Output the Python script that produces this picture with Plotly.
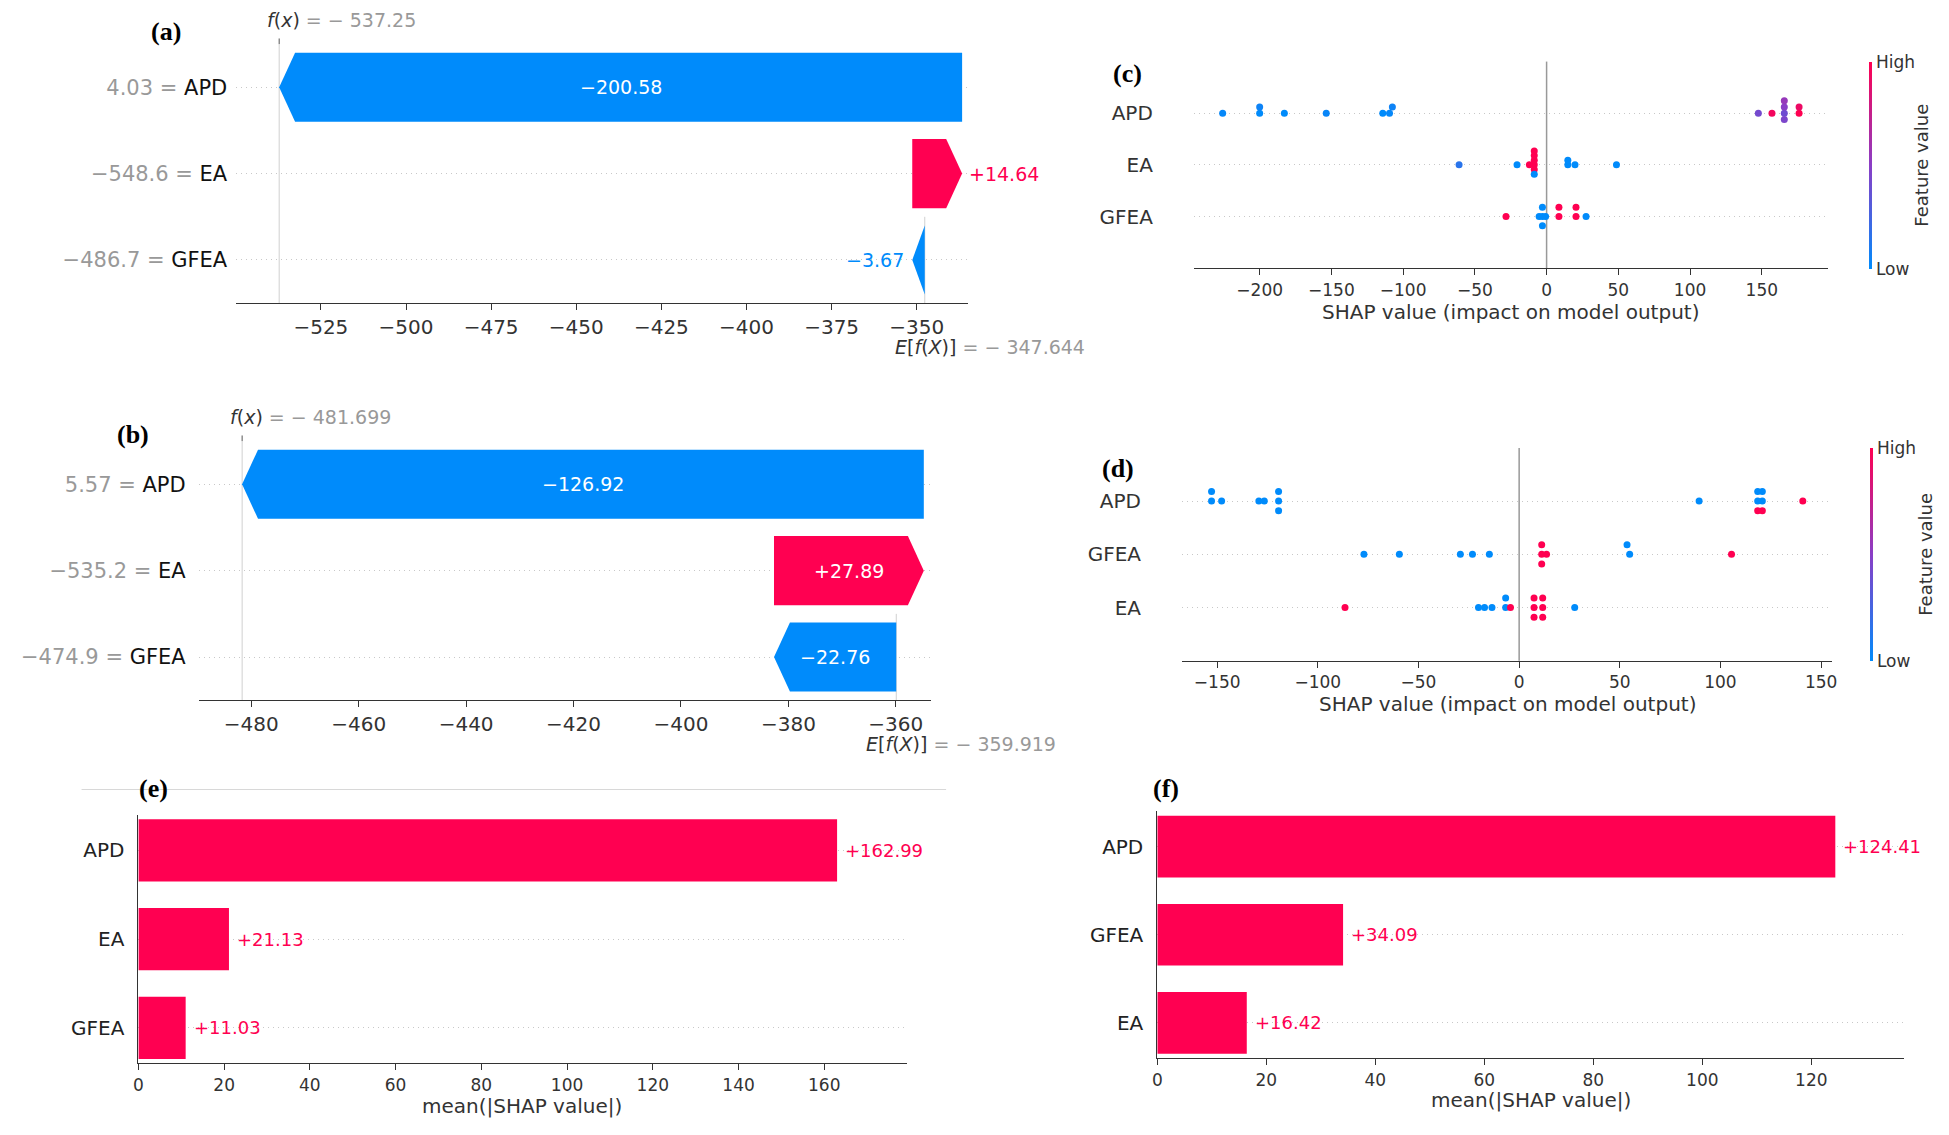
import numpy as np
import plotly.graph_objects as go

# ======================= DATA =======================
# (a) waterfall
wf_a_features = ["APD", "EA", "GFEA"]
wf_a_feature_values = ["4.03", "−548.6", "−486.7"]
wf_a_shap = [-200.58, 14.64, -3.67]
wf_a_base = -347.644
wf_a_fx = -537.25
wf_a_ticks = [-525, -500, -475, -450, -425, -400, -375, -350]

# (b) waterfall
wf_b_features = ["APD", "EA", "GFEA"]
wf_b_feature_values = ["5.57", "−535.2", "−474.9"]
wf_b_shap = [-126.92, 27.89, -22.76]
wf_b_base = -359.919
wf_b_fx = -481.699
wf_b_ticks = [-480, -460, -440, -420, -400, -380, -360]

# (c) beeswarm  (shap values, and normalised feature value 0=low .. 1=high)
bs_c_features = ["APD", "EA", "GFEA"]
bs_c_apd = [-225.8, -200.0, -200.0, -182.8, -153.6, -114.2, -109.5, -107.5,
            147.6, 157.1, 165.7, 165.7, 165.7, 165.7, 176.0, 176.0]
bs_c_apd_fv = [0.02, 0.0, 0.05, 0.0, 0.03, 0.0, 0.02, 0.05,
               0.42, 0.95, 0.40, 0.50, 0.45, 0.55, 1.0, 0.92]
bs_c_ea = [-61.0, -20.6, -12.0, -8.6, -8.6, -8.6, -8.6, -8.6, -8.6, 14.8, 14.8, 19.8, 48.7]
bs_c_ea_fv = [0.15, 0.0, 1.0, 1.0, 1.0, 1.0, 1.0, 0.0, 1.0, 0.0, 0.0, 0.0, 0.0]
bs_c_gfea = [-28.3, -5.2, -2.9, -2.9, -2.9, -0.7, 8.6, 8.6, 20.5, 20.5, 27.5]
bs_c_gfea_fv = [1.0, 0.0, 0.0, 0.0, 0.0, 0.0, 1.0, 1.0, 1.0, 1.0, 0.0]
bs_c_ticks = [-200, -150, -100, -50, 0, 50, 100, 150]

# (d) beeswarm
bs_d_features = ["APD", "GFEA", "EA"]
bs_d_apd = [-152.8, -152.8, -147.8, -129.3, -126.6, -119.5, -119.5, -119.5,
            89.4, 118.5, 118.5, 118.5, 120.8, 120.8, 120.8, 140.9]
bs_d_apd_fv = [0, 0, 0, 0, 0, 0, 0, 0, 0.0, 0.0, 0.0, 1.0, 0.0, 0.0, 1.0, 1.0]
bs_d_gfea = [-77.1, -59.5, -29.2, -23.2, -14.8, 11.2, 11.2, 11.2, 13.6, 54.9, 53.6, 105.5]
bs_d_gfea_fv = [0, 0, 0, 0, 0, 1, 1, 1, 1, 0, 0, 1]
bs_d_ea = [-86.5, -20.2, -17.2, -13.5, -6.7, -6.7, -4.3, 7.4, 7.4, 7.4, 11.7, 11.7, 11.7, 27.6]
bs_d_ea_fv = [1, 0, 0, 0, 0, 0, 1, 1, 1, 1, 1, 1, 1, 0]
bs_d_ticks = [-150, -100, -50, 0, 50, 100, 150]

# (e) mean |SHAP| bar
bar_e_features = ["APD", "EA", "GFEA"]
bar_e_values = [162.99, 21.13, 11.03]
bar_e_ticks = [0, 20, 40, 60, 80, 100, 120, 140, 160]
# (f)
bar_f_features = ["APD", "GFEA", "EA"]
bar_f_values = [124.41, 34.09, 16.42]
bar_f_ticks = [0, 20, 40, 60, 80, 100, 120]

# ======================= STYLE / LAYOUT =======================
W, H = 1949, 1135
DW, DH = 1570.0, 914.3          # layout grid used for positioning


def px(xd):
    return xd / DW


def py(yd):
    return 1 - yd / DH


BLUE = "#008bfb"
RED = "#ff0051"
GRID = "#c8c8c8"
TXT = "#333333"
CSCALE = [[0.0, "#008bfb"], [0.5, "#8a3ec6"], [1.0, "#ff0051"]]
FONT = "DejaVu Sans"

DOM = {
    "a": dict(x=[187.4, 780], y=[35.5, 244.2], xr=[-549.8, -334.85]),
    "b": dict(x=[157, 750], y=[355.3, 564.1], xr=[-489.75, -353.4]),
    "c": dict(x=[962.6, 1476], y=[49.6, 216.0]),
    "d": dict(x=[953, 1479.6], y=[360.8, 532.3]),
    "e": dict(x=[108, 730], y=[656.4, 856.6], xr=[0, 179.2]),
    "f": dict(x=[933, 1538], y=[653.6, 852.4], xr=[0, 137.1]),
}

fig = go.Figure()
layout = dict(width=W, height=H, margin=dict(l=0, r=0, t=0, b=0),
              paper_bgcolor="white", plot_bgcolor="white",
              font=dict(family=FONT, color=TXT), showlegend=False)
annotations = []
shapes = []


def xdom(k):
    return [px(DOM[k]["x"][0]), px(DOM[k]["x"][1])]


def ydom(k):
    return [py(DOM[k]["y"][1]), py(DOM[k]["y"][0])]


def xaxis_cfg(k, anchor, rng, tickvals, size):
    return dict(domain=xdom(k), anchor=anchor, range=rng, tickvals=tickvals,
                showline=True, linecolor="#333333", linewidth=1,
                ticks="outside", ticklen=6, tickcolor="#333333",
                tickfont=dict(size=size, color=TXT), showgrid=False,
                zeroline=False, fixedrange=True)


def yaxis_cfg(k, anchor, rng, tickvals, ticktext, size, gap, color=TXT):
    return dict(domain=ydom(k), anchor=anchor, range=rng, tickvals=tickvals,
                ticktext=ticktext, showline=False, zeroline=False,
                showgrid=True, gridcolor=GRID, griddash="1px,4px", gridwidth=1,
                ticks="outside", ticklen=gap, tickcolor="rgba(0,0,0,0)",
                tickfont=dict(size=size, color=color), fixedrange=True)


# ---------------- waterfall ----------------
def waterfall(k, xa, ya, feats, fvals, shap, base, fx, ticks, ygap):
    n = len(shap)
    ypos = [n - 1 - i for i in range(n)]
    starts, ends = [0.0] * n, [0.0] * n
    cur = base
    for i in range(n - 1, -1, -1):
        starts[i] = cur
        cur = cur + shap[i]
        ends[i] = cur
    xr = DOM[k]["xr"]
    ppu = (xdom(k)[1] - xdom(k)[0]) * W / (xr[1] - xr[0])
    hl = 16.0 / ppu
    for i in range(n):
        s, e, y = starts[i], ends[i], ypos[i]
        d = e - s
        sign = 1 if d > 0 else -1
        h = min(abs(d), hl)
        neck = e - sign * h
        col = RED if d > 0 else BLUE
        fig.add_trace(go.Scatter(
            x=[s, neck, e, neck, s, s], y=[y - 0.4, y - 0.4, y, y + 0.4, y + 0.4, y - 0.4],
            xaxis=xa, yaxis=ya, mode="lines", fill="toself", fillcolor=col,
            line=dict(width=0, color=col), hoverinfo="skip"))
        label = f"+{d:.2f}" if d > 0 else f"−{abs(d):.2f}"
        tw = 0.6 * 19 * len(label)
        if abs(d) * ppu > tw + 20:
            annotations.append(dict(x=(s + e) / 2, y=y, xref=xa, yref=ya, text=label,
                                    showarrow=False, font=dict(size=19, color="white")))
        else:
            annotations.append(dict(x=e, y=y, xref=xa, yref=ya, text=label, showarrow=False,
                                    xanchor="left" if d > 0 else "right",
                                    xshift=5 if d > 0 else -6,
                                    font=dict(size=19, color=col)))
    ticktext = [f"<span style='color:#999999'>{fvals[i]} = </span>{feats[i]}" for i in range(n)]
    layout["xaxis" + xa[1:]] = xaxis_cfg(k, ya, xr, ticks, 20)
    layout["yaxis" + ya[1:]] = yaxis_cfg(k, xa, [-0.5, n - 0.5], ypos, ticktext, 21, ygap, "#111111")
    top, bot = DOM[k]["y"]
    # f(x) line + tick, E[f(X)] line
    shapes.append(dict(type="line", xref=xa, x0=fx, x1=fx, yref="paper", y0=py(bot), y1=py(top),
                       line=dict(color="#d0d0d0", width=1), layer="below"))
    shapes.append(dict(type="line", xref=xa, x0=fx, x1=fx, yref="paper", y0=py(top), y1=py(top - 4.5),
                       line=dict(color="#555555", width=1)))
    shapes.append(dict(type="line", xref=xa, x0=base, x1=base, yref="paper", y0=py(bot),
                       y1=py(bot - (bot - top) / n), line=dict(color="#d0d0d0", width=1), layer="below"))
    annotations.append(dict(x=fx, xref=xa, y=py(top - 19.5), yref="paper", xanchor="left", xshift=-14,
                            showarrow=False,
                            text=f"<i>f</i>(<i>x</i>) <span style='color:#999999'>= − {abs(fx):g}</span>",
                            font=dict(size=19, color="#333333")))
    annotations.append(dict(x=base, xref=xa, y=py(bot + 35.4), yref="paper", xanchor="left", xshift=-32,
                            showarrow=False,
                            text=f"<i>E</i>[<i>f</i>(<i>X</i>)] <span style='color:#999999'>= − {abs(base):g}</span>",
                            font=dict(size=19, color="#333333")))


waterfall("a", "x", "y", wf_a_features, wf_a_feature_values, wf_a_shap, wf_a_base, wf_a_fx, wf_a_ticks, 4)
waterfall("b", "x2", "y2", wf_b_features, wf_b_feature_values, wf_b_shap, wf_b_base, wf_b_fx, wf_b_ticks, 8)


# ---------------- beeswarm ----------------
def swarm_offsets(vals, row_height=0.4, nbins=100):
    v = np.asarray(vals, float)
    quant = np.round(nbins * (v - v.min()) / (v.max() - v.min() + 1e-8))
    inds = np.argsort(quant, kind="stable")
    layer, last = 0, None
    ys = np.zeros(len(v))
    for i in inds:
        if quant[i] != last:
            layer = 0
        ys[i] = np.ceil(layer / 2) * ((layer % 2) * 2 - 1)
        layer += 1
        last = quant[i]
    ys *= 0.9 * (row_height / np.max(ys + 1))
    return ys


def beeswarm(k, xa, ya, feats, rows, cols, ticks, cax, cbx, cb_title_x):
    n = len(feats)
    allv = np.concatenate([np.asarray(r, float) for r in rows])
    lo, hi = allv.min(), allv.max()
    pad = 0.05 * (hi - lo)
    for i in range(n):
        v = np.asarray(rows[i], float)
        off = swarm_offsets(v)
        fig.add_trace(go.Scatter(
            x=v, y=(n - 1 - i) + off, xaxis=xa, yaxis=ya, mode="markers",
            marker=dict(size=7, color=cols[i], coloraxis=cax, line=dict(width=0)),
            hoverinfo="skip"))
    layout["xaxis" + xa[1:]] = xaxis_cfg(k, ya, [lo - pad, hi + pad], ticks, 17)
    layout["yaxis" + ya[1:]] = yaxis_cfg(k, xa, [-1, n], [n - 1 - i for i in range(n)], feats, 20, 36)
    shapes.append(dict(type="line", xref=xa, x0=0, x1=0, yref=ya + " domain", y0=0, y1=1,
                       line=dict(color="#999999", width=1.5), layer="below"))
    top, bot = DOM[k]["y"]
    layout[cax] = dict(colorscale=CSCALE, cmin=0, cmax=1, colorbar=dict(
        x=px(cbx), xanchor="left", xpad=0, y=py(top), yanchor="top", ypad=0,
        len=(bot - top) / DH, lenmode="fraction", thickness=3, outlinewidth=0,
        tickvals=[0, 1], ticktext=["Low", "High"], ticks="", tickfont=dict(size=17, color=TXT)))
    annotations.append(dict(x=px(cb_title_x), y=py((top + bot) / 2), xref="paper", yref="paper",
                            text="Feature value", textangle=-90, showarrow=False,
                            font=dict(size=18, color=TXT)))
    annotations.append(dict(x=(xdom(k)[0] + xdom(k)[1]) / 2, y=py(bot + 35), xref="paper", yref="paper",
                            text="SHAP value (impact on model output)", showarrow=False,
                            font=dict(size=20, color=TXT)))


beeswarm("c", "x3", "y3", bs_c_features, [bs_c_apd, bs_c_ea, bs_c_gfea],
         [bs_c_apd_fv, bs_c_ea_fv, bs_c_gfea_fv], bs_c_ticks, "coloraxis", 1509, 1552)
beeswarm("d", "x4", "y4", bs_d_features, [bs_d_apd, bs_d_gfea, bs_d_ea],
         [bs_d_apd_fv, bs_d_gfea_fv, bs_d_ea_fv], bs_d_ticks, "coloraxis2", 1510, 1555)


# ---------------- mean |SHAP| bars ----------------
def barplot(k, xa, ya, feats, vals, ticks):
    n = len(feats)
    ypos = [n - 1 - i for i in range(n)]
    fig.add_trace(go.Bar(x=vals, y=ypos, orientation="h", width=0.7, xaxis=xa, yaxis=ya,
                         marker=dict(color=RED, line=dict(width=0)), hoverinfo="skip"))
    for v, y in zip(vals, ypos):
        annotations.append(dict(x=v, y=y, xref=xa, yref=ya, text=f"+{v:.2f}", showarrow=False,
                                xanchor="left", xshift=6, font=dict(size=18, color=RED)))
    layout["xaxis" + xa[1:]] = xaxis_cfg(k, ya, DOM[k]["xr"], ticks, 17)
    yc = yaxis_cfg(k, xa, [-0.4, n - 0.6], ypos, feats, 20, 9, "#222222")
    yc.update(showline=True, linecolor="#333333", linewidth=1)
    layout["yaxis" + ya[1:]] = yc
    bot = DOM[k]["y"][1]
    annotations.append(dict(x=(xdom(k)[0] + xdom(k)[1]) / 2, y=py(bot + 34), xref="paper", yref="paper",
                            text="mean(|SHAP value|)", showarrow=False, font=dict(size=20, color=TXT)))


barplot("e", "x5", "y5", bar_e_features, bar_e_values, bar_e_ticks)
barplot("f", "x6", "y6", bar_f_features, bar_f_values, bar_f_ticks)

# panel letters
for lab, (xd, yd) in {"(a)": (130, 25.5), "(b)": (104, 350.4), "(c)": (909, 59),
                      "(d)": (901, 377), "(e)": (120, 635), "(f)": (940, 635)}.items():
    annotations.append(dict(x=px(xd), y=py(yd), xref="paper", yref="paper", text=f"<b>{lab}</b>",
                            showarrow=False, font=dict(family="Liberation Serif", size=26, color="black")))

# thin frame line above panel (e)
shapes.append(dict(type="line", xref="paper", yref="paper", x0=px(62), x1=px(762), y0=py(636), y1=py(636),
                   line=dict(color="#d8d8d8", width=1)))

# explicit anchoring for every annotation (avoid 'auto' thirds rule)
for a in annotations:
    a.setdefault("xanchor", "center")
    a.setdefault("yanchor", "middle")

layout["annotations"] = annotations
layout["shapes"] = shapes
fig.update_layout(**layout)

fig.write_html("out.html", config={"displayModeBar": False},
               post_script="document.body.style.margin='0';document.body.style.overflow='hidden';")
